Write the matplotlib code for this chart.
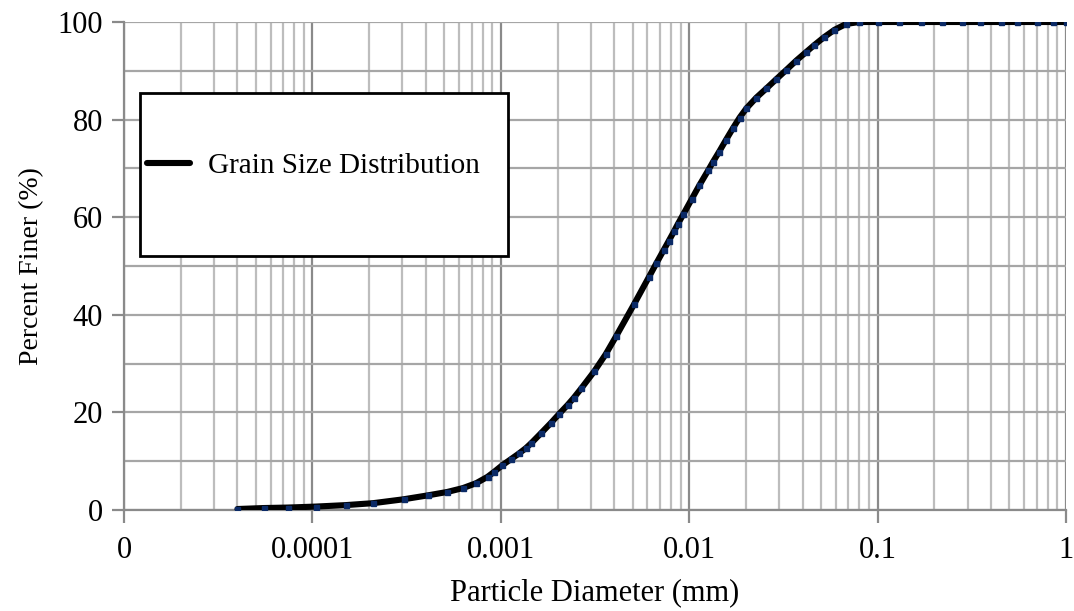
import matplotlib
matplotlib.use("Agg")
import matplotlib.pyplot as plt
from matplotlib.patches import Rectangle
from matplotlib.ticker import LogLocator, NullFormatter, FixedLocator, MultipleLocator

# grain size data (diameter in mm, percent finer)
diameter = [4.0e-5, 5.5e-5, 7.4e-5, 1.04e-4, 1.5e-4, 2.1e-4, 3.05e-4, 4.1e-4,
            5.2e-4, 6.3e-4, 7.4e-4, 8.5e-4, 9.2e-4, 1.02e-3, 1.13e-3, 1.25e-3,
            1.36e-3, 1.45e-3, 1.63e-3, 1.85e-3, 2.04e-3, 2.27e-3, 2.44e-3,
            2.67e-3, 3.13e-3, 3.6e-3, 4.09e-3, 5.1e-3, 6.1e-3, 6.7e-3, 7.3e-3,
            7.8e-3, 8.3e-3, 8.7e-3, 9.3e-3, 1.03e-2, 1.13e-2, 1.26e-2, 1.34e-2,
            1.44e-2, 1.57e-2, 1.71e-2, 1.85e-2, 2.01e-2, 2.27e-2, 2.57e-2,
            2.9e-2, 3.28e-2, 3.7e-2, 4.19e-2, 4.62e-2, 5.2e-2, 5.9e-2, 6.8e-2,
            8.0e-2, 0.1, 0.13, 0.17, 0.22, 0.28, 0.35, 0.45, 0.55, 0.7, 0.85, 1.0]
percent_finer = [0.2, 0.4, 0.5, 0.7, 1.0, 1.4, 2.2, 3.0,
                 3.7, 4.5, 5.5, 6.8, 7.8, 9.2, 10.4, 11.6,
                 12.7, 13.7, 15.7, 17.9, 19.7, 21.6, 23.0,
                 24.9, 28.4, 31.9, 35.6, 42.2, 47.7, 50.6, 53.2,
                 55.2, 57.1, 58.6, 60.6, 63.7, 66.5, 69.6, 71.4,
                 73.4, 75.9, 78.3, 80.4, 82.3, 84.5, 86.4,
                 88.3, 90.2, 92.1, 93.9, 95.3, 96.9, 98.4, 99.6,
                 100, 100, 100, 100, 100, 100, 100, 100, 100, 100, 100, 100]

x_ticks = [1e-5, 1e-4, 1e-3, 1e-2, 1e-1, 1]
x_tick_labels = ["0", "0.0001", "0.001", "0.01", "0.1", "1"]
y_ticks = [0, 20, 40, 60, 80, 100]

plt.rcParams['font.family'] = ['Liberation Serif', 'DejaVu Serif']

fig = plt.figure(figsize=(10.74, 6.11), dpi=100)
ax = fig.add_axes([0.1155, 0.1653, 0.8771, 0.7987])

ax.set_xscale("log")
ax.set_xlim(1e-5, 1)
ax.set_ylim(0, 100)

# gridlines: darker for decades, lighter for 2..9
ax.xaxis.set_major_locator(FixedLocator(x_ticks))
ax.xaxis.set_minor_locator(LogLocator(base=10, subs=range(2, 10)))
ax.xaxis.set_minor_formatter(NullFormatter())
ax.set_xticklabels(x_tick_labels)
ax.yaxis.set_major_locator(FixedLocator(y_ticks))
ax.yaxis.set_minor_locator(MultipleLocator(10))

ax.grid(which="major", axis="x", color="#8a8a8a", lw=1.6)
ax.grid(which="minor", axis="x", color="#bdbdbd", lw=1.6)
ax.grid(which="both", axis="y", color="#a6a6a6", lw=1.6)
ax.set_axisbelow(True)

for side in ["top", "right"]:
    ax.spines[side].set_visible(False)
for side in ["left", "bottom"]:
    ax.spines[side].set_color("#8a8a8a")
    ax.spines[side].set_linewidth(1.6)

ax.tick_params(which="major", length=9, width=1.6, color="#8a8a8a",
               labelsize=22, pad=6)
ax.tick_params(which="minor", length=0)
ax.tick_params(axis="x", pad=10)

line, = ax.plot(diameter, percent_finer, color="black", lw=4.4,
                solid_capstyle="round", solid_joinstyle="round",
                label="Grain Size Distribution", zorder=3)
ax.plot(diameter, percent_finer, ls="none", marker="s", ms=3.6,
        color="#0b2a66", zorder=4)

ax.set_xlabel("Particle Diameter (mm)", fontsize=22, labelpad=9)
ax.set_ylabel("Percent Finer (%)", fontsize=20, labelpad=10)

# legend box
box = Rectangle((0.017, 0.52), 0.391, 0.335, transform=ax.transAxes,
                facecolor="white", edgecolor="black", lw=2, zorder=5)
ax.add_patch(box)
leg = ax.legend(handles=[line], loc="center left", bbox_to_anchor=(0.024, 0.705),
                frameon=False, fontsize=21, handlelength=1.5, handletextpad=0.6,
                borderpad=0, borderaxespad=0)
leg.set_zorder(6)

fig.savefig("out.png", dpi=100, facecolor="white")
